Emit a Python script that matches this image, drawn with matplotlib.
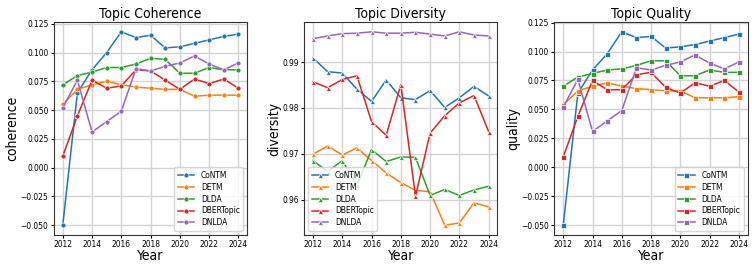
import matplotlib
matplotlib.use('Agg')
import matplotlib.pyplot as plt

years = [2012, 2013, 2014, 2015, 2016, 2017, 2018, 2019, 2020, 2021, 2022, 2023, 2024]
models = ['CoNTM', 'DETM', 'DLDA', 'DBERTopic', 'DNLDA']
colors = ['#1f77b4', '#ff7f0e', '#2ca02c', '#d62728', '#9467bd']

# Topic coherence
coherence = {
    'CoNTM': [-0.050, 0.065, 0.085, 0.100, 0.118, 0.113, 0.115, 0.104, 0.105, 0.108, 0.111, 0.114, 0.116],
    'DETM': [0.055, 0.068, 0.072, 0.075, 0.072, 0.070, 0.069, 0.068, 0.068, 0.062, 0.063, 0.063, 0.063],
    'DLDA': [0.072, 0.080, 0.083, 0.087, 0.087, 0.090, 0.095, 0.094, 0.082, 0.082, 0.087, 0.085, 0.085],
    'DBERTopic': [0.010, 0.045, 0.076, 0.069, 0.071, 0.085, 0.084, 0.076, 0.068, 0.077, 0.073, 0.077, 0.069],
    'DNLDA': [0.052, 0.076, 0.031, 0.040, 0.049, 0.086, 0.084, 0.088, 0.091, 0.097, 0.090, 0.085, 0.091],
}

# Topic diversity
diversity = {
    'CoNTM': [0.9909, 0.9879, 0.9876, 0.9841, 0.9814, 0.9861, 0.9822, 0.9818, 0.9838, 0.9801, 0.9822, 0.9847, 0.9826],
    'DETM': [0.9699, 0.9717, 0.9697, 0.9713, 0.9685, 0.9658, 0.9637, 0.9620, 0.9617, 0.9544, 0.9549, 0.9593, 0.9584],
    'DLDA': [0.9685, 0.9661, 0.9685, 0.9631, 0.9709, 0.9683, 0.9693, 0.9692, 0.9609, 0.9622, 0.9609, 0.9621, 0.9629],
    'DBERTopic': [0.9857, 0.9844, 0.9862, 0.9870, 0.9770, 0.9740, 0.9851, 0.9607, 0.9745, 0.9783, 0.9811, 0.9827, 0.9748],
    'DNLDA': [0.9951, 0.9957, 0.9962, 0.9963, 0.9966, 0.9963, 0.9963, 0.9965, 0.9961, 0.9957, 0.9966, 0.9959, 0.9957],
}

# Topic quality
quality = {
    'CoNTM': [-0.050, 0.064, 0.084, 0.098, 0.117, 0.112, 0.113, 0.103, 0.104, 0.106, 0.109, 0.112, 0.115],
    'DETM': [0.054, 0.066, 0.070, 0.073, 0.070, 0.068, 0.067, 0.066, 0.066, 0.060, 0.060, 0.060, 0.061],
    'DLDA': [0.070, 0.078, 0.081, 0.084, 0.085, 0.088, 0.092, 0.092, 0.079, 0.079, 0.084, 0.082, 0.082],
    'DBERTopic': [0.009, 0.044, 0.075, 0.067, 0.067, 0.080, 0.082, 0.069, 0.064, 0.073, 0.070, 0.075, 0.065],
    'DNLDA': [0.052, 0.076, 0.031, 0.040, 0.049, 0.086, 0.084, 0.088, 0.091, 0.097, 0.090, 0.085, 0.091],
}

panels = [
    (coherence, 'Topic Coherence', 'coherence', 'o', 'lower right'),
    (diversity, 'Topic Diversity', 'diversity', '^', 'lower left'),
    (quality, 'Topic Quality', 'quality', 's', 'lower right'),
]

# the original looks horizontally squeezed, condensed DejaVu gets close
plt.rcParams['font.stretch'] = 'condensed'

fig, axes = plt.subplots(1, 3, figsize=(7.56, 2.7), dpi=100)
plt.subplots_adjust(left=0.0714, right=0.989, top=0.918, bottom=0.13, wspace=0.295)

for ax, (data, title, ylabel, marker, loc) in zip(axes, panels):
    for name, c in zip(models, colors):
        ax.plot(years, data[name], color=c, label=name, linewidth=1.1,
                marker=marker, markersize=3.6, markeredgecolor='white', markeredgewidth=0.5)
    ax.set_title(title, fontsize=10, pad=3)
    ax.set_ylabel(ylabel, fontsize=10, labelpad=1)
    ax.set_xlabel('Year', fontsize=10, labelpad=0)
    ax.set_xticks([2012, 2014, 2016, 2018, 2020, 2022, 2024])
    ax.tick_params(labelsize=6, length=2.5, pad=1.5)
    ax.grid(True, color='#d3d3d3', linewidth=1.0)
    ax.set_axisbelow(True)
    for s in ax.spines.values():
        s.set_color('#333333')
        s.set_linewidth(0.8)
    ax.legend(loc=loc, fontsize=6, framealpha=0.8, borderpad=0.4, labelspacing=0.35)

plt.savefig('out.png', dpi=100)
